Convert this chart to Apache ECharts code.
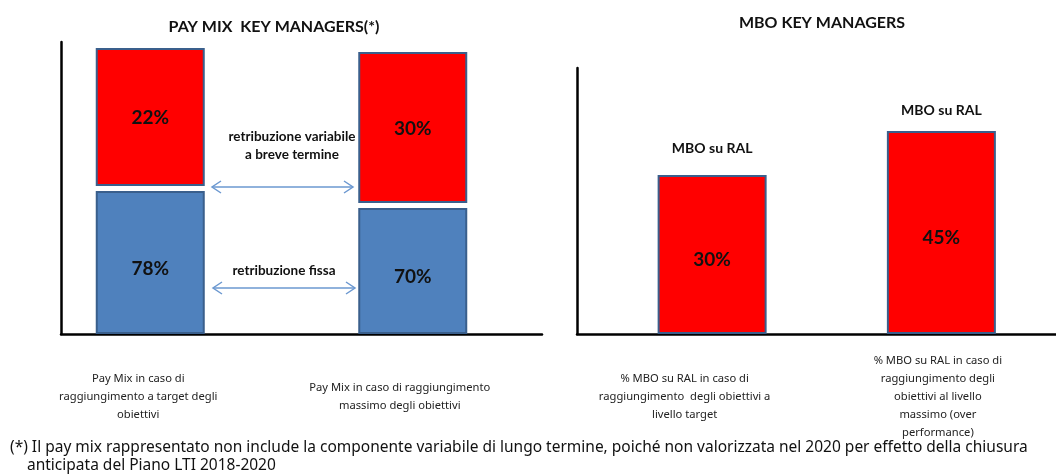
<!DOCTYPE html>
<html>
<head>
<meta charset="utf-8">
<script src="https://cdn.jsdelivr.net/npm/echarts@6/dist/echarts.min.js"></script>
<style>
  html, body { margin: 0; padding: 0; background: #fff; }
  #chart { width: 1056px; height: 474px; }
</style>
</head>
<body>
<div id="chart"></div>
<script>
  // pay mix (left): percentages printed on the bars, heights as drawn in the slide
  var payCategories = ['Pay Mix in caso di\nraggiungimento a target degli\nobiettivi', 'Pay Mix in caso di raggiungimento\nmassimo degli obiettivi']
  var fixedPct = [78, 70]
  var variablePct = [22, 30]
  var fixedHeight = [143, 126]
  var variableHeight = [138, 151]

  // MBO (right)
  var mboCategories = ['% MBO su RAL in caso di\nraggiungimento  degli obiettivi a\nlivello target', '% MBO su RAL in caso di\nraggiungimento degli\nobiettivi al livello\nmassimo (over\nperformance)']
  var mboPct = [30, 45]
  var mboHeight = [159, 203]
  var mboTag = ['MBO su RAL', 'MBO su RAL']

  var GAP = 5
  var FONT = 'Lato, "Noto Sans", sans-serif'
  var SANS = '"Noto Sans", sans-serif'
  var BORDER = '#3A5F8C'
  var ARROW = '#6b98d0'
  var TAG_DIST = [20, 14]

  var myChart = echarts.init(document.getElementById('chart'))

  function catLabel(pads) {
    var rich = {}
    pads.forEach(function (p, i) {
      rich['c' + i] = { fontFamily: SANS, fontSize: 11.2, lineHeight: 18, color: '#222', padding: [0, p, 0, 0] }
    })
    return {
      interval: 0,
      hideOverlap: false,
      margin: 63,
      verticalAlign: 'middle',
      formatter: function (v, i) {
        return v.split('\n').map(function (l) { return '{c' + i + '|' + l + '}' }).join('\n')
      },
      rich: rich
    }
  }

  function frameAxis(grid) {
    return {
      gridIndex: grid, type: 'value', min: 0, max: 1,
      axisLine: { show: true, onZero: false, lineStyle: { color: '#000', width: 2.5 } },
      axisTick: { show: false }, axisLabel: { show: false }, splitLine: { show: false }
    }
  }

  function hiddenY(grid, max) {
    return { gridIndex: grid, type: 'value', min: 0, max: max, show: false }
  }

  function arrow(x1, x2, y) {
    var s = { stroke: ARROW, lineWidth: 1.5, fill: null }
    return [
      { type: 'line', shape: { x1: x1, y1: y, x2: x2, y2: y }, style: s },
      { type: 'polyline', shape: { points: [[x1 + 9, y - 6], [x1, y], [x1 + 9, y + 6]] }, style: s },
      { type: 'polyline', shape: { points: [[x2 - 9, y - 6], [x2, y], [x2 - 9, y + 6]] }, style: s }
    ]
  }

  function txt(x, y, text, font, align) {
    return {
      type: 'text', x: x, y: y,
      style: { text: text, font: font, fill: '#111', align: align || 'center', verticalAlign: 'middle', lineHeight: 18 }
    }
  }

  var valueLabel = { show: true, position: 'inside', color: '#111', fontFamily: FONT, fontWeight: 'bold', fontSize: 19 }

  var option = {
    animation: false,
    grid: [
      { left: 19, width: 525, top: 42, bottom: 140 },
      { left: 61, width: 481, top: 42, bottom: 140 },
      { left: 597.5, width: 480, top: 68, bottom: 140 },
      { left: 577, right: 0, top: 68, bottom: 140 }
    ],
    xAxis: [
      { gridIndex: 0, type: 'category', data: payCategories, axisLine: { show: false }, axisTick: { show: false }, axisLabel: catLabel([24, 26]) },
      frameAxis(1),
      { gridIndex: 2, type: 'category', data: mboCategories, axisLine: { show: false }, axisTick: { show: false }, axisLabel: catLabel([55, 7]) },
      frameAxis(3)
    ],
    yAxis: [hiddenY(0, 292), frameAxis(1), hiddenY(2, 266), frameAxis(3)],
    series: [
      {
        name: 'retribuzione fissa', type: 'bar', stack: 'pay', xAxisIndex: 0, yAxisIndex: 0, barWidth: 109,
        data: fixedHeight,
        itemStyle: { color: '#4F81BD', borderColor: BORDER, borderWidth: 2 },
        label: Object.assign({}, valueLabel, { offset: [0, 6], formatter: function (p) { return fixedPct[p.dataIndex] + '%' } })
      },
      {
        name: 'gap', type: 'bar', stack: 'pay', xAxisIndex: 0, yAxisIndex: 0, barWidth: 109, silent: true,
        data: fixedHeight.map(function () { return GAP }),
        itemStyle: { color: 'rgba(0,0,0,0)' }
      },
      {
        name: 'retribuzione variabile a breve termine', type: 'bar', stack: 'pay', xAxisIndex: 0, yAxisIndex: 0, barWidth: 109,
        data: variableHeight,
        itemStyle: { color: '#FF0000', borderColor: BORDER, borderWidth: 2 },
        label: Object.assign({}, valueLabel, { offset: [0, 1], formatter: function (p) { return variablePct[p.dataIndex] + '%' } })
      },
      {
        name: 'MBO su RAL', type: 'bar', xAxisIndex: 2, yAxisIndex: 2, barWidth: 109,
        data: mboHeight,
        itemStyle: { color: '#FF0000', borderColor: BORDER, borderWidth: 2 },
        label: Object.assign({}, valueLabel, { offset: [0, 5], formatter: function (p) { return mboPct[p.dataIndex] + '%' } }),
        markPoint: {
          symbol: 'circle', symbolSize: 0, silent: true,
          data: mboTag.map(function (t, i) {
            return { name: t, coord: [i, mboHeight[i]], label: { distance: TAG_DIST[i] } }
          }),
          label: { show: true, position: 'top', formatter: '{b}', color: '#111', fontFamily: FONT, fontWeight: 'bold', fontSize: 14 }
        }
      }
    ],
    graphic: [
      txt(274, 27, 'PAY MIX  KEY MANAGERS(*)', 'bold 16px ' + FONT),
      txt(822, 23, 'MBO KEY MANAGERS', 'bold 16px ' + FONT),
      txt(292, 146, 'retribuzione variabile\na breve termine', 'bold 13.5px ' + FONT),
      txt(284, 271, 'retribuzione fissa', 'bold 13.5px ' + FONT)
    ].concat(arrow(212, 353, 187), arrow(213, 355, 288), [
      txt(10, 448, '(*) Il pay mix rappresentato non include la componente variabile di lungo termine, poiché non valorizzata nel 2020 per effetto della chiusura', '15.5px ' + SANS, 'left'),
      txt(27, 466, 'anticipata del Piano LTI 2018-2020', '15.5px ' + SANS, 'left')
    ])
  }

  myChart.setOption(option)
  window.addEventListener('resize', function () {
    myChart.resize()
  })
</script>
</body>
</html>
